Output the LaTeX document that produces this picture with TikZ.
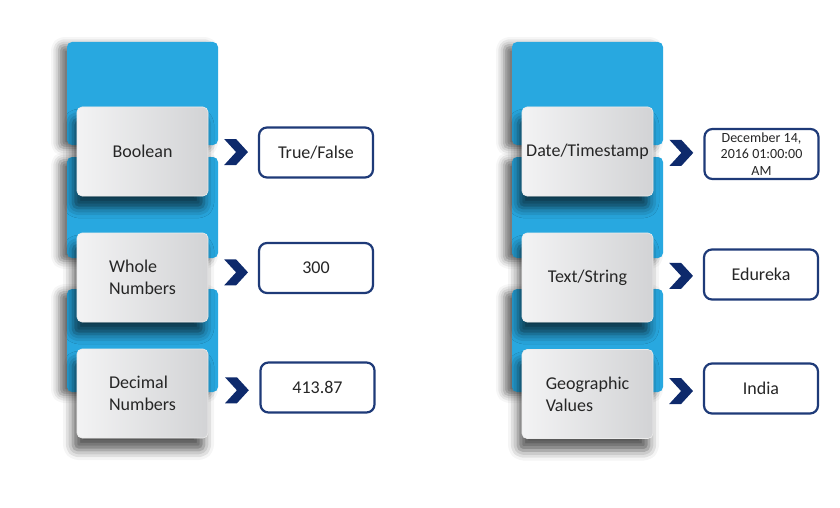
\documentclass[tikz,border=0pt]{standalone}
\usepackage{fontspec}
\setmainfont{Carlito}
\usetikzlibrary{shapes.symbols,shadows.blur}
\definecolor{tabblue}{HTML}{28A8E0}
\definecolor{chevnavy}{HTML}{0E2A6C}
\definecolor{valborder}{HTML}{1E3A78}
\definecolor{boxlight}{HTML}{F3F3F4}
\definecolor{boxdark}{HTML}{D2D3D5}
\tikzstyle{tab} = [rectangle,fill=tabblue,rounded corners=5pt,minimum width=151pt,inner sep=0pt,blur shadow={shadow xshift=-8pt,shadow yshift=-3pt,shadow blur radius=8pt,shadow opacity=55}]
\tikzstyle{kind} = [rectangle,rounded corners=5pt,minimum width=131pt,minimum height=89pt,inner sep=0pt,align=left,left color=boxlight,right color=boxdark,draw=white!85!gray,line width=0.6pt,text=black!85,font=\fontsize{18}{22}\selectfont,blur shadow={shadow xshift=-4pt,shadow yshift=-12pt,shadow blur radius=10pt,shadow opacity=65}]
\tikzstyle{val} = [rectangle,rounded corners=8pt,draw=valborder,line width=2.2pt,fill=white,minimum width=114pt,minimum height=50pt,inner sep=0pt,align=center,text=black!85,font=\fontsize{18}{20}\selectfont]
\tikzstyle{chev} = [signal,signal to=east,signal from=west,signal pointer angle=95,fill=chevnavy,minimum width=23pt,minimum height=26pt,inner sep=0pt,pos=0.56]

\begin{document}
\begin{tikzpicture}[x=1pt,y=-1pt]
    	\useasboundingbox (0,0) rectangle (840,508);
    	
    	% blue tabs behind the left column
    	\node[tab,minimum height=103pt] (ltabA) at (142.5,93.5) {};
    	\node[tab,minimum height=101pt] (ltabB) at (142.5,207.5) {};
    	\node[tab,minimum height=103pt] (ltabC) at (142.5,340.5) {};
    	% blue tabs behind the right column
    	\node[tab,minimum height=103pt] (rtabA) at (587.5,93.5) {};
    	\node[tab,minimum height=101pt] (rtabB) at (587.5,207.5) {};
    	\node[tab,minimum height=103pt] (rtabC) at (587.5,340.5) {};
    	
    	\node[kind] (boolean) at (142.5,151.5) {\raisebox{-2pt}{Boolean}};
    	\node[kind] (whole) at (142.5,277.5) {Whole\\Numbers};
    	\node[kind] (decimal) at (142.5,393.5) {Decimal\\Numbers};
    	\node[kind] (date) at (587.5,151.5) {\raisebox{-2pt}{Date/Timestamp}};
    	\node[kind] (text) at (587.5,277.5) {Text/String};
    	\node[kind] (geo) at (587.5,394) {Geographic\\Values};
    	
    	\node[val] (truefalse) at (316,152.5) {True/False};
    	\node[val] (threehundred) at (316,268) {300};
    	\node[val] (decvalue) at (317.5,387.5) {413.87};
    	\node[val,font=\fontsize{14}{16.5}\selectfont] (timestamp) at (761.5,154) {December 14,\\2016 01:00:00\\AM};
    	\node[val] (edureka) at (761,274.5) {Edureka};
    	\node[val] (india) at (761,388.5) {India};
    	
    	\path (boolean) -- node[chev] (chevA) {} (truefalse);
    	\path (whole) -- node[chev] (chevB) {} (threehundred);
    	\path (decimal) -- node[chev] (chevC) {} (decvalue);
    	\path (date) -- node[chev] (chevD) {} (timestamp);
    	\path (text) -- node[chev] (chevE) {} (edureka);
    	\path (geo) -- node[chev] (chevF) {} (india);
    	
\end{tikzpicture}
\end{document}
